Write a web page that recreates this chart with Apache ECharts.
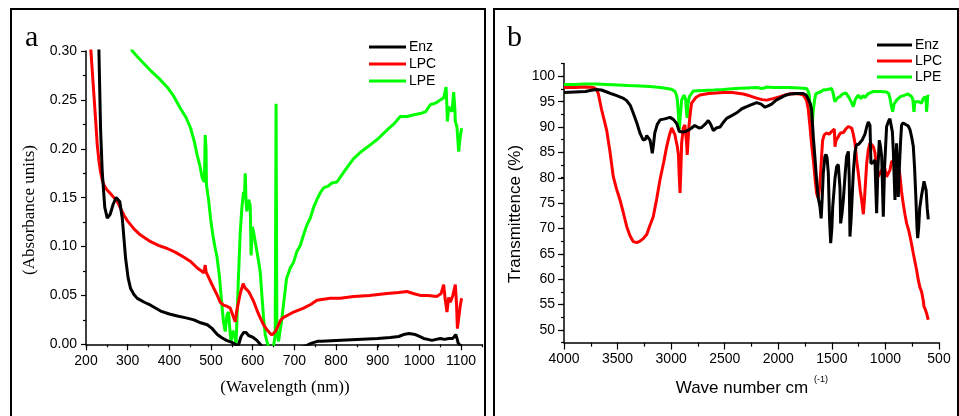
<!DOCTYPE html>
<html>
<head>
<meta charset="utf-8">
<script src="https://cdn.jsdelivr.net/npm/echarts@6/dist/echarts.min.js"></script>
<style>html,body{margin:0;padding:0;background:#fff}#chart{width:959px;height:416px}</style>
</head>
<body>
<div id="chart"></div>
<script>
// ---- Panel a: UV-Vis absorbance, [wavelength nm, absorbance] ----
const seriesNames = ['Enz', 'LPC', 'LPE'];
const uvXTicks = [200, 300, 400, 500, 600, 700, 800, 900, 1000, 1100];
const uvYTicks = [0.00, 0.05, 0.10, 0.15, 0.20, 0.25, 0.30];
const irXTicks = [4000, 3500, 3000, 2500, 2000, 1500, 1000, 500];
const irYTicks = [50, 55, 60, 65, 70, 75, 80, 85, 90, 95, 100];

const uvEnz = [[226,0.45],[231,0.30],[235,0.22],[239,0.176],[245,0.14],[251,0.129],[258,0.133],[265,0.143],[272,0.150],[276,0.151],[281,0.146],[287,0.129],[295,0.088],[301,0.068],[307,0.057],[315,0.051],[323,0.047],[340,0.043],[355,0.040],[379,0.034],[400,0.031],[419,0.029],[440,0.027],[459,0.025],[475,0.022],[491,0.020],[503,0.016],[515,0.010],[525,0.007],[537,0.004],[550,0.002],[558,0.000],[565,-0.002],[572,0.008],[578,0.012],[584,0.012],[590,0.009],[601,0.007],[610,0.004],[618,0.000],[625,-0.004],[650,-0.008],[700,-0.006],[730,-0.001],[740,0.001],[755,0.003],[765,0.003],[800,0.004],[850,0.005],[900,0.006],[930,0.007],[950,0.008],[962,0.010],[975,0.011],[990,0.010],[1000,0.008],[1010,0.006],[1020,0.005],[1030,0.004],[1040,0.005],[1050,0.006],[1060,0.005],[1070,0.006],[1080,0.006],[1087,0.010],[1090,0.006],[1093,0.001],[1100,-0.002]];
const uvLPC = [[205,0.40],[211,0.305],[215,0.28],[219,0.255],[223,0.23],[227,0.204],[231,0.188],[235,0.176],[239,0.168],[243,0.163],[250,0.158],[259,0.154],[267,0.150],[275,0.146],[283,0.139],[291,0.132],[300,0.126],[315,0.118],[330,0.112],[355,0.105],[375,0.101],[395,0.098],[415,0.094],[435,0.089],[450,0.085],[467,0.078],[477,0.075],[483,0.073],[486,0.081],[488,0.074],[499,0.064],[507,0.057],[515,0.050],[522,0.043],[530,0.040],[538,0.039],[546,0.037],[552,0.030],[558,0.023],[562,0.035],[570,0.052],[577,0.062],[581,0.058],[585,0.057],[590,0.054],[595,0.050],[602,0.044],[610,0.035],[618,0.027],[626,0.020],[634,0.015],[640,0.012],[646,0.0095],[650,0.010],[654,0.013],[660,0.018],[666,0.024],[672,0.027],[685,0.030],[698,0.033],[710,0.035],[722,0.037],[740,0.041],[754,0.045],[770,0.046],[786,0.047],[810,0.047],[842,0.049],[880,0.050],[922,0.052],[950,0.053],[970,0.054],[985,0.052],[1002,0.050],[1020,0.050],[1042,0.049],[1052,0.052],[1058,0.061],[1062,0.045],[1066,0.033],[1070,0.048],[1074,0.043],[1080,0.050],[1086,0.061],[1089,0.040],[1091,0.016],[1095,0.030],[1098,0.040],[1101,0.047]];
const uvLPE = [[290,0.33],[311,0.300],[330,0.291],[355,0.280],[375,0.272],[395,0.263],[410,0.254],[427,0.241],[440,0.232],[451,0.221],[460,0.207],[467,0.193],[473,0.183],[479,0.170],[484,0.166],[486,0.214],[488,0.200],[489,0.163],[494,0.148],[499,0.128],[505,0.110],[510,0.098],[514,0.090],[520,0.070],[526,0.040],[530,0.022],[534,0.013],[538,0.030],[542,0.033],[546,0.010],[548,0.003],[552,0.014],[556,0.0095],[560,0.000],[565,0.060],[570,0.115],[574,0.140],[578,0.156],[580,0.150],[582,0.175],[584,0.145],[586,0.136],[590,0.148],[594,0.142],[596,0.091],[599,0.120],[602,0.115],[606,0.105],[610,0.095],[614,0.085],[618,0.074],[622,0.050],[626,0.027],[630,0.010],[634,0.003],[640,-0.005],[650,-0.002],[654,0.010],[656,0.246],[658,0.010],[662,0.003],[666,0.015],[669,0.023],[675,0.045],[681,0.067],[690,0.078],[698,0.084],[706,0.095],[714,0.101],[722,0.112],[730,0.122],[738,0.129],[746,0.140],[754,0.148],[762,0.155],[770,0.160],[782,0.162],[790,0.165],[802,0.166],[815,0.174],[830,0.183],[842,0.190],[860,0.197],[882,0.204],[900,0.210],[922,0.219],[940,0.226],[954,0.233],[970,0.233],[990,0.235],[1002,0.236],[1015,0.238],[1026,0.245],[1040,0.247],[1050,0.250],[1058,0.252],[1064,0.263],[1066,0.240],[1067,0.228],[1070,0.243],[1074,0.245],[1078,0.238],[1082,0.258],[1085,0.240],[1086,0.228],[1090,0.222],[1094,0.197],[1097,0.210],[1101,0.221]];

// ---- Panel b: FTIR transmittance, [wave number cm-1, %T] ----
const irEnz = [[4000,96.8],[3900,96.9],[3800,97.0],[3757,97.2],[3700,97.4],[3650,97.3],[3600,96.9],[3550,96.5],[3508,96.2],[3450,95.7],[3415,95.2],[3380,94.2],[3353,92.7],[3320,90.8],[3291,88.8],[3260,87.4],[3240,87.6],[3228,88.3],[3210,88.0],[3197,87.4],[3185,86.0],[3176,84.8],[3165,86.5],[3153,88.8],[3130,90.5],[3104,91.4],[3060,91.6],[3011,91.9],[2980,91.5],[2948,90.7],[2924,89.1],[2890,89.0],[2855,89.2],[2830,89.5],[2809,89.8],[2780,90.3],[2762,90.2],[2740,89.8],[2716,89.9],[2680,90.6],[2653,91.3],[2630,90.5],[2606,89.3],[2580,89.8],[2544,90.0],[2510,91.0],[2482,91.7],[2430,92.3],[2388,92.8],[2340,93.6],[2295,94.0],[2250,94.4],[2202,94.8],[2160,94.5],[2124,93.9],[2090,94.2],[2062,94.5],[2020,95.3],[1984,95.7],[1940,96.2],[1891,96.5],[1830,96.6],[1767,96.6],[1740,96.3],[1720,95.5],[1700,94.5],[1689,93.4],[1673,88.0],[1658,84.0],[1642,79.5],[1627,76.0],[1611,74.3],[1600,72.0],[1590,76.0],[1580,80.9],[1565,84.2],[1555,84.6],[1545,84.0],[1533,80.9],[1522,72.0],[1511,67.1],[1500,70.0],[1492,74.3],[1470,80.0],[1455,82.2],[1440,82.6],[1430,82.5],[1424,78.0],[1418,71.0],[1405,73.0],[1393,75.6],[1375,81.0],[1362,84.2],[1346,85.2],[1338,80.0],[1331,68.4],[1320,72.0],[1300,80.9],[1285,85.0],[1269,86.5],[1250,86.6],[1238,86.3],[1215,87.5],[1191,88.6],[1175,90.0],[1160,91.0],[1150,90.8],[1144,90.3],[1135,82.8],[1115,83.0],[1098,83.5],[1090,78.0],[1082,73.0],[1070,82.0],[1057,87.4],[1045,86.0],[1035,84.2],[1027,78.0],[1020,72.3],[1008,82.0],[989,90.1],[970,91.2],[958,91.6],[942,91.3],[935,89.0],[927,85.6],[918,80.0],[911,75.6],[903,82.0],[896,86.8],[888,82.0],[880,76.2],[870,82.0],[858,87.4],[849,90.4],[835,90.8],[818,90.7],[787,90.2],[771,89.5],[755,88.0],[740,86.2],[728,82.0],[715,75.6],[705,70.0],[699,68.1],[690,70.0],[680,74.0],[663,76.5],[650,78.0],[640,79.3],[631,79.6],[620,77.5],[610,74.0],[600,71.8]];
const irLPC = [[4000,97.8],[3900,97.8],[3800,97.9],[3727,97.8],[3700,97.5],[3680,96.6],[3650,93.5],[3602,89.4],[3570,85.0],[3540,80.2],[3510,77.8],[3477,75.6],[3445,73.0],[3415,70.4],[3385,68.6],[3353,67.4],[3320,67.2],[3291,67.5],[3260,68.0],[3228,68.8],[3200,70.5],[3167,72.3],[3135,75.8],[3104,79.6],[3070,83.0],[3042,86.1],[3015,88.5],[2995,89.8],[2980,89.6],[2965,88.5],[2955,87.4],[2942,86.1],[2932,84.5],[2924,80.0],[2917,77.0],[2910,81.0],[2902,86.8],[2887,89.8],[2872,90.4],[2862,90.1],[2856,87.0],[2850,84.5],[2843,87.0],[2834,90.1],[2820,93.0],[2809,94.7],[2770,95.8],[2731,96.3],[2650,96.6],[2580,96.7],[2513,96.8],[2430,96.8],[2327,96.5],[2260,96.1],[2202,95.7],[2150,95.4],[2109,95.3],[2050,95.6],[1984,96.0],[1920,96.4],[1860,96.6],[1800,96.5],[1767,96.3],[1736,95.3],[1720,93.5],[1704,90.1],[1690,86.8],[1673,83.5],[1658,80.0],[1642,76.9],[1627,76.0],[1615,78.0],[1605,80.9],[1595,84.5],[1586,87.4],[1570,88.5],[1549,88.8],[1525,88.6],[1502,89.1],[1490,89.0],[1477,89.6],[1471,86.1],[1460,87.4],[1440,88.1],[1420,88.8],[1393,88.9],[1370,89.6],[1346,90.1],[1315,89.8],[1300,88.6],[1284,86.8],[1269,83.5],[1253,80.9],[1235,77.5],[1222,75.6],[1206,72.8],[1195,76.0],[1175,82.8],[1160,85.5],[1144,86.9],[1128,86.5],[1113,86.1],[1098,85.0],[1082,81.5],[1067,80.2],[1051,80.9],[1035,81.5],[1020,82.2],[1005,81.8],[989,80.2],[973,80.0],[958,81.5],[942,83.2],[925,83.2],[911,83.2],[896,82.8],[880,82.2],[865,80.5],[849,77.2],[835,75.0],[818,72.8],[802,71.0],[785,69.8],[771,68.5],[755,66.8],[740,65.1],[725,63.5],[709,61.8],[693,59.8],[678,58.4],[662,57.5],[647,55.8],[640,54.6],[631,54.2],[624,54.0],[616,53.3],[608,52.6],[600,52.0]];
const irLPE = [[4000,98.4],[3900,98.4],[3800,98.5],[3700,98.5],[3600,98.4],[3500,98.3],[3400,98.2],[3291,98.1],[3200,98.0],[3100,97.8],[3011,97.5],[2985,97.3],[2964,97.0],[2950,96.3],[2942,95.3],[2932,92.5],[2924,89.5],[2915,92.0],[2902,95.3],[2880,96.3],[2865,95.5],[2855,92.5],[2850,91.8],[2843,94.5],[2830,96.0],[2793,97.1],[2700,97.2],[2600,97.3],[2513,97.4],[2400,97.6],[2300,97.7],[2202,97.8],[2150,97.6],[2100,97.9],[2050,97.8],[1984,97.8],[1900,97.8],[1800,97.7],[1736,97.6],[1720,97.0],[1711,96.3],[1700,93.5],[1689,90.1],[1680,91.5],[1673,93.4],[1660,95.5],[1648,96.6],[1600,97.0],[1580,97.3],[1540,97.4],[1502,97.6],[1490,97.3],[1487,96.6],[1478,95.5],[1471,95.0],[1460,95.4],[1445,95.8],[1424,96.0],[1400,96.5],[1368,96.7],[1346,96.0],[1320,95.0],[1300,94.0],[1280,95.5],[1253,96.3],[1230,95.6],[1210,96.2],[1191,95.8],[1160,96.6],[1113,97.0],[1050,97.0],[989,96.9],[970,96.6],[958,95.7],[945,94.2],[933,93.0],[920,94.5],[896,95.3],[860,96.0],[818,96.3],[790,96.5],[756,96.0],[745,95.5],[734,93.0],[725,95.0],[709,95.3],[690,95.0],[663,94.7],[650,95.5],[631,96.0],[620,95.0],[616,93.0],[610,94.5],[605,96.3],[600,96.0]];

const colors = ['#000000', '#ff0000', '#00ff00'];
const SANS = "Arial, 'Liberation Sans', sans-serif";
const SERIF = "'Times New Roman', 'Liberation Serif', serif";
const axisColor = '#000';

const chart = echarts.init(document.getElementById('chart'), null, {renderer: 'canvas'});

function lineSeries(name, data, axis, color) {
  return {
    name: name, type: 'line', data: data, xAxisIndex: axis, yAxisIndex: axis,
    showSymbol: false, symbol: 'none', clip: true, animation: false,
    lineStyle: {color: color, width: 3}, itemStyle: {color: color},
    z: name === 'Enz' ? 4 : (name === 'LPC' ? 3 : 2)
  };
}
const lineAx = {lineStyle: {color: axisColor, width: 1.5}, onZero: false};
const noLine = {show: false, onZero: false};
const plain = v => String(v);
const lbl = (extra) => Object.assign({color: '#000', fontSize: 14, fontFamily: SANS, formatter: plain}, extra || {});

const option = {
  backgroundColor: '#fff',
  animation: false,
  grid: [
    {left: 86, top: 51, width: 396, height: 293.3},
    {left: 86, top: 51, width: 375, height: 293.3},
    {left: 564, top: 63.6, width: 375, height: 279},
    {left: 564, top: 76.3, width: 375, height: 253.7}
  ],
  xAxis: [
    {gridIndex: 0, type: 'value', min: 200, max: 1150, interval: 50,
     axisLine: lineAx, axisTick: {length: 3, lineStyle: {color: axisColor, width: 1.2}},
     axisLabel: {show: false}, splitLine: {show: false}},
    {gridIndex: 1, type: 'value', min: uvXTicks[0], max: uvXTicks[uvXTicks.length - 1], interval: 100,
     axisLine: noLine, axisTick: {length: 6, lineStyle: {color: axisColor, width: 1.2}},
     axisLabel: lbl({margin: 10}), splitLine: {show: false}},
    {gridIndex: 2, type: 'value', min: irXTicks[irXTicks.length - 1], max: irXTicks[0], interval: 500, inverse: true,
     axisLine: lineAx, axisTick: {length: 7, lineStyle: {color: axisColor, width: 1.2}},
     minorTick: {show: true, splitNumber: 2, length: 4, lineStyle: {color: axisColor, width: 1.2}},
     axisLabel: lbl({margin: 10}), splitLine: {show: false}, minorSplitLine: {show: false}},
    {gridIndex: 3, type: 'value', show: false, min: 0, max: 1}
  ],
  yAxis: [
    {gridIndex: 0, type: 'value', min: uvYTicks[0], max: uvYTicks[uvYTicks.length - 1], interval: 0.05,
     axisLine: lineAx, axisTick: {length: 5, lineStyle: {color: axisColor, width: 1.2}},
     minorTick: {show: true, splitNumber: 2, length: 3, lineStyle: {color: axisColor, width: 1.2}},
     axisLabel: lbl({margin: 9, formatter: v => v.toFixed(2)}), splitLine: {show: false}, minorSplitLine: {show: false}},
    {gridIndex: 1, type: 'value', show: false, min: 0, max: 1},
    {gridIndex: 2, type: 'value', min: 47.5, max: 102.5, interval: 2.5,
     axisLine: lineAx, axisTick: {length: 3, lineStyle: {color: axisColor, width: 1.2}},
     axisLabel: {show: false}, splitLine: {show: false}},
    {gridIndex: 3, type: 'value', min: irYTicks[0], max: irYTicks[irYTicks.length - 1], interval: 5,
     axisLine: noLine, axisTick: {length: 6, lineStyle: {color: axisColor, width: 1.2}},
     axisLabel: lbl({margin: 9}), splitLine: {show: false}}
  ],
  legend: [
    {data: seriesNames, orient: 'vertical', left: 364, top: 35, itemWidth: 37, itemHeight: 3, icon: 'rect',
     itemGap: 3, textStyle: {color: '#000', fontSize: 14, fontFamily: SANS, lineHeight: 14, padding: [0, 0, 0, -2]}, selectedMode: false},
    {data: seriesNames, orient: 'vertical', left: 872, top: 33, itemWidth: 35, itemHeight: 3, icon: 'rect',
     itemGap: 2, textStyle: {color: '#000', fontSize: 14, fontFamily: SANS, lineHeight: 14, padding: [0, 0, 0, -2]}, selectedMode: false}
  ],
  graphic: [
    {type: 'rect', shape: {x: 11, y: 9, width: 474, height: 430}, style: {fill: 'none', stroke: '#000', lineWidth: 2}, silent: true},
    {type: 'rect', shape: {x: 494, y: 9, width: 464, height: 430}, style: {fill: 'none', stroke: '#000', lineWidth: 2}, silent: true},
    {type: 'text', x: 25, y: 38, style: {text: 'a', font: '30px ' + SERIF, fill: '#000', align: 'left', verticalAlign: 'middle'}},
    {type: 'text', x: 507, y: 38, style: {text: 'b', font: '30px ' + SERIF, fill: '#000', align: 'left', verticalAlign: 'middle'}},
    {type: 'text', x: 30, y: 210, rotation: Math.PI / 2, style: {text: '(Absorbance units)', font: '17px ' + SERIF, fill: '#000', align: 'center', verticalAlign: 'middle'}},
    {type: 'text', x: 285, y: 388, style: {text: '(Wavelength (nm))', font: '17px ' + SERIF, fill: '#000', align: 'center', verticalAlign: 'middle'}},
    {type: 'text', x: 515, y: 214, rotation: Math.PI / 2, style: {text: 'Transmittence (%)', font: '17px ' + SANS, fill: '#000', align: 'center', verticalAlign: 'middle'}},
    {type: 'text', x: 742, y: 388, style: {text: 'Wave number cm', font: '17px ' + SANS, fill: '#000', align: 'center', verticalAlign: 'middle'}},
    {type: 'text', x: 814, y: 380, style: {text: '(-1)', font: '9px ' + SANS, fill: '#000', align: 'left', verticalAlign: 'middle'}}
  ],
  series: [
    lineSeries('LPE', uvLPE, 0, colors[2]),
    lineSeries('LPC', uvLPC, 0, colors[1]),
    lineSeries('Enz', uvEnz, 0, colors[0]),
    lineSeries('LPE', irLPE, 2, colors[2]),
    lineSeries('LPC', irLPC, 2, colors[1]),
    lineSeries('Enz', irEnz, 2, colors[0])
  ]
};
chart.setOption(option);
</script>
</body>
</html>
